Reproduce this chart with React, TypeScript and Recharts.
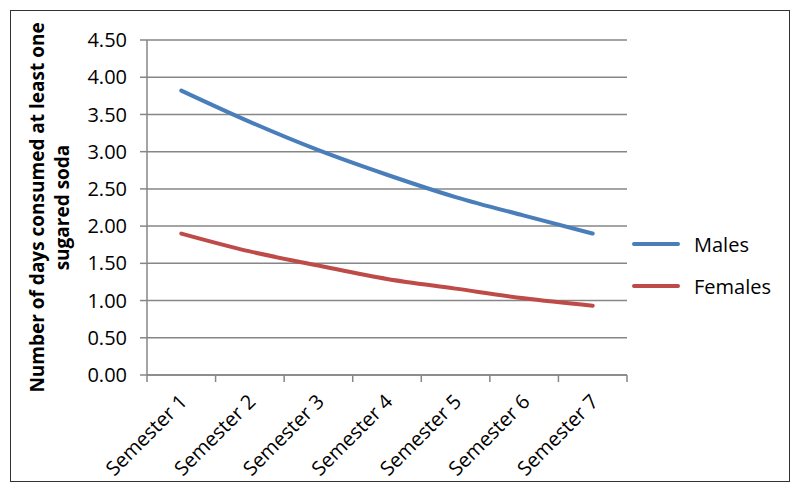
import { LineChart, Line, XAxis, YAxis, CartesianGrid } from "recharts";

const categories = ["Semester 1", "Semester 2", "Semester 3", "Semester 4", "Semester 5", "Semester 6", "Semester 7"];
const males = [3.82, 3.40, 3.02, 2.69, 2.39, 2.14, 1.9];
const females = [1.9, 1.66, 1.47, 1.29, 1.16, 1.03, 0.93];
const yTicks = [0, 0.5, 1, 1.5, 2, 2.5, 3, 3.5, 4, 4.5];

const series = [
  { key: "males", name: "Males", color: "#4A7EBB" },
  { key: "females", name: "Females", color: "#BE4B48" },
];

const data = categories.map((c, i) => ({ name: c, males: males[i], females: females[i] }));

const FONT = "'Open Sans', sans-serif";
const AXIS = "#868686";
const PLOT_W = 480;
const HALF = PLOT_W / categories.length / 2;

function XTick(props: any) {
  const { x, y, payload, index, visibleTicksCount } = props;
  const isLast = index === visibleTicksCount - 1;
  return (
    <g>
      <line x1={x - HALF} y1={y} x2={x - HALF} y2={y + 7} stroke={AXIS} strokeWidth={1.5} />
      {isLast && <line x1={x + HALF} y1={y} x2={x + HALF} y2={y + 7} stroke={AXIS} strokeWidth={1.5} />}
      <text
        transform={`translate(${x + 2},${y + 23}) rotate(-45)`}
        textAnchor="end"
        dy="0.35em"
        fontFamily={FONT}
        fontSize={20}
        fill="#000"
      >
        {payload.value}
      </text>
    </g>
  );
}

function YLabel(props: any) {
  const vb = props.viewBox || { x: 0, y: 40, width: 147, height: 335 };
  const cy = vb.y + vb.height / 2;
  return (
    <g fontFamily={FONT} fontWeight="bold" fontSize={19} fill="#000">
      <text transform={`translate(37,${cy}) rotate(-90)`} textAnchor="middle" dy="0.35em">
        Number of days consumed at least one
      </text>
      <text transform={`translate(62,${cy}) rotate(-90)`} textAnchor="middle" dy="0.35em">
        sugared soda
      </text>
    </g>
  );
}

export default function App() {
  return (
    <div style={{ position: "absolute", left: 0, top: 0, width: 800, height: 494, background: "#fff" }}>
      <div
        style={{
          position: "absolute",
          left: 10,
          top: 10,
          width: 778,
          height: 470,
          border: "1.5px solid #333",
        }}
      />
      <div style={{ position: "absolute", left: 0, top: 0 }}>
        <LineChart
          width={800}
          height={494}
          data={data}
          margin={{ top: 40, right: 173, left: 0, bottom: 19 }}
        >
          <CartesianGrid vertical={false} stroke={AXIS} strokeWidth={1.5} />
          <XAxis
            dataKey="name"
            height={100}
            padding={{ left: HALF, right: HALF }}
            axisLine={{ stroke: AXIS, strokeWidth: 1.5 }}
            tickLine={false}
            tickSize={0}
            tickMargin={0}
            interval={0}
            tick={<XTick />}
          />
          <YAxis
            width={147}
            domain={[0, 4.5]}
            ticks={yTicks}
            tickFormatter={(v: number) => v.toFixed(2)}
            axisLine={{ stroke: AXIS, strokeWidth: 1.5 }}
            tickLine={{ stroke: AXIS, strokeWidth: 1.5 }}
            tickSize={7}
            tickMargin={13}
            tick={{ fontFamily: FONT, fontSize: 20, fill: "#000" }}
            label={{ content: <YLabel /> }}
          />
          {series.map((s) => (
            <Line
              key={s.key}
              type="monotone"
              dataKey={s.key}
              name={s.name}
              stroke={s.color}
              strokeWidth={4}
              strokeLinecap="round"
              dot={false}
              isAnimationActive={false}
            />
          ))}
        </LineChart>
      </div>
      <div style={{ position: "absolute", left: 632, top: 223, fontFamily: FONT, fontSize: 20, color: "#000" }}>
        {series.map((s) => (
          <div key={s.key} style={{ display: "flex", alignItems: "center", height: 42 }}>
            <div style={{ width: 48, height: 4, background: s.color, borderRadius: 2, marginRight: 14 }} />
            <span>{s.name}</span>
          </div>
        ))}
      </div>
    </div>
  );
}
